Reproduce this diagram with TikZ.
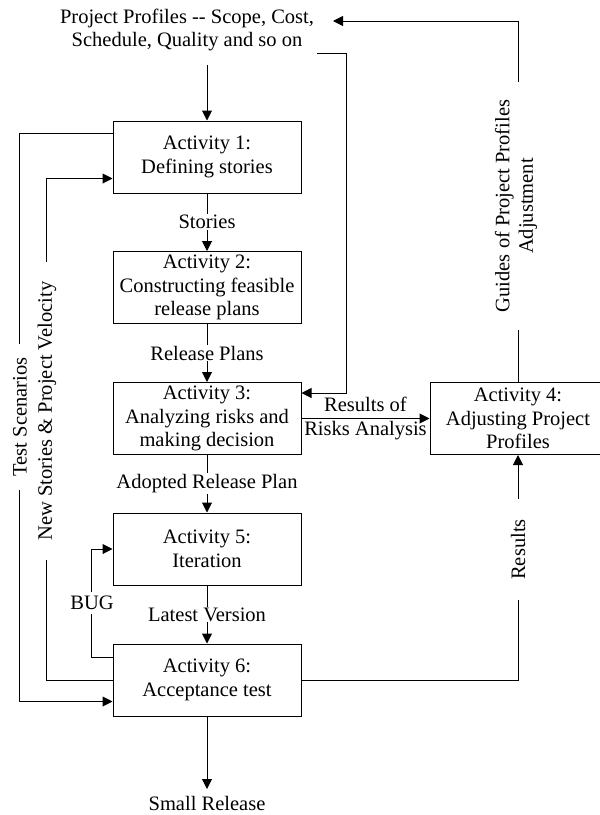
\documentclass[tikz,border=0pt]{standalone}
\usepackage{fontspec}
\setmainfont{Liberation Serif}
\usetikzlibrary{arrows.meta,calc}
\begin{document}
\begin{tikzpicture}[x=1pt,y=-1pt,
  font=\fontsize{20.5}{23.5}\selectfont,
  box/.style={draw,line width=1pt,minimum width=188pt,minimum height=72pt,align=center,inner sep=0pt},
  lbl/.style={fill=white,inner xsep=4pt,inner ysep=1pt,align=center},
  vlbl/.style={fill=white,rotate=90,inner ysep=1pt,align=center},
  arr/.style={line width=1pt,-{Triangle[length=10pt,width=10pt]}}]
\useasboundingbox (0,0) rectangle (600,815);

% top text
\node[align=center,inner sep=0pt] (pp) at (187,30) {Project Profiles {-}{-} Scope, Cost,\\Schedule, Quality and so on};
\coordinate (ppb) at (207,65);
\coordinate (ppr) at (317,53);
\coordinate (pptip) at (333,21);

% boxes
\node[box] (a1) at (207,157) {Activity 1:\\Defining stories};
\node[box] (a2) at (207,287.5) {Activity 2:\\Constructing feasible\\release plans};
\node[box] (a3) at (207,418.5) {Activity 3:\\Analyzing risks and\\making decision};
\node[box] (a5) at (207,549) {Activity 5:\\Iteration};
\node[box] (a6) at (207,680) {Activity 6:\\Acceptance test};
\node[box,minimum width=176pt] (a4) at (518,418.5) {Activity 4:\\Adjusting Project\\Profiles};
\node[anchor=north,inner ysep=7pt] (sr) at (207,789) {Small Release};

% main flow
\draw[arr] (ppb) -- (a1.north);
\draw[arr] (a1.south) -- node[lbl] {Stories} (a2.north);
\draw[arr] (a2.south) -- node[lbl] {Release Plans} (a3.north);
\draw[arr] (a3.south) -- node[lbl] {Adopted Release Plan} (a5.north);
\draw[arr] (a5.south) -- node[lbl] {Latest Version} (a6.north);
\draw[arr] (a6.south) -- (sr.north);

% right side
\draw[arr] (ppr) -- (346,53) |- ([yshift=-11pt]a3.north east);
\draw[arr] (a3.east) -- node[align=center,inner sep=0pt] {Results of\\Risks Analysis} (a4.west);
\draw[arr] (a4.north) |- (pptip);
\node[vlbl,inner xsep=18pt] (guides) at (516,206) {Guides of Project Profiles\\Adjustment};
\draw[arr] (a6.east) -| (a4.south);
\node[vlbl,inner xsep=20pt] (res) at (518,549.5) {Results};

% left side
\draw[arr] ([yshift=-13pt]a1.north west) -- ++(-93,0) |- ([yshift=-58pt]a6.north west);
\node[vlbl,inner xsep=14pt] (ts) at (20,417) {Test Scenarios};
\draw[arr] (a6.west) -- ++(-66,0) |- ([yshift=-58pt]a1.north west);
\node[vlbl,inner xsep=20pt] (ns) at (47,411) {New Stories \& Project Velocity};
\draw[arr] ([yshift=-14pt]a6.north west) -- ++(-21,0) |- (a5.west);
\node[fill=white,inner xsep=1pt,inner ysep=4pt] (bug) at (92,603) {BUG};
\end{tikzpicture}
\end{document}
